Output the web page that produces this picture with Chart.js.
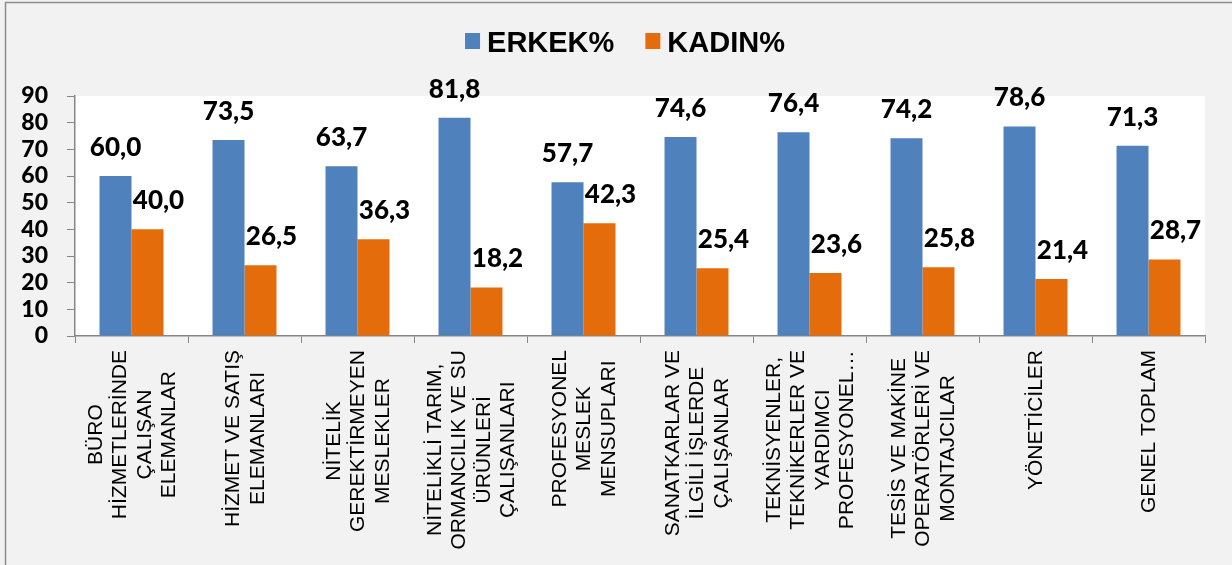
<!DOCTYPE html>
<html lang="tr">
<head>
    <meta charset="UTF-8">
    <script src="https://cdn.jsdelivr.net/npm/chart.js"></script>
    <title>ERKEK% / KADIN%</title>
    <style>
        html, body {
            margin: 0;
            padding: 0;
            background-color: #f2f2f2;
        }
        #chart {
            display: block;
        }
    </style>
</head>
<body>
    <canvas id="chart" width="1232" height="565"></canvas>

    <script>
        // Kategoriler (satırlara bölünmüş)
        const categories = [
            ['BÜRO', 'HİZMETLERİNDE', 'ÇALIŞAN', 'ELEMANLAR'],
            ['HİZMET VE SATIŞ', 'ELEMANLARI'],
            ['NİTELİK', 'GEREKTİRMEYEN', 'MESLEKLER'],
            ['NİTELİKLİ TARIM,', 'ORMANCILIK VE SU', 'ÜRÜNLERİ', 'ÇALIŞANLARI'],
            ['PROFESYONEL', 'MESLEK', 'MENSUPLARI'],
            ['SANATKARLAR VE', 'İLGİLİ İŞLERDE', 'ÇALIŞANLAR'],
            ['TEKNİSYENLER,', 'TEKNİKERLER VE', 'YARDIMCI', 'PROFESYONEL…'],
            ['TESİS VE MAKİNE', 'OPERATÖRLERİ VE', 'MONTAJCILAR'],
            ['YÖNETİCİLER'],
            ['GENEL TOPLAM']
        ];
        const erkek = [60.0, 73.5, 63.7, 81.8, 57.7, 74.6, 76.4, 74.2, 78.6, 71.3];
        const kadin = [40.0, 26.5, 36.3, 18.2, 42.3, 25.4, 23.6, 25.8, 21.4, 28.7];
        const yTicks = [0, 10, 20, 30, 40, 50, 60, 70, 80, 90];

        const BLUE = '#4f81bd';
        const ORANGE = '#e46c0a';
        const AXIS = '#868686';

        // arka plan, çerçeve ve beyaz çizim alanı
        const backgroundPlugin = {
            id: 'background',
            beforeDraw(chart) {
                const ctx = chart.ctx;
                const a = chart.chartArea;
                ctx.save();
                ctx.fillStyle = '#f2f2f2';
                ctx.fillRect(0, 0, chart.width, chart.height);
                ctx.strokeStyle = '#8c8c8c';
                ctx.lineWidth = 1.5;
                ctx.beginPath();
                ctx.moveTo(5.5, chart.height);
                ctx.lineTo(5.5, 2.5);
                ctx.lineTo(chart.width, 2.5);
                ctx.stroke();
                ctx.fillStyle = '#ffffff';
                ctx.fillRect(a.left, a.top, a.right - a.left, a.bottom - a.top);
                ctx.restore();
            }
        };

        // lejant
        const legendPlugin = {
            id: 'customLegend',
            afterDraw(chart) {
                const ctx = chart.ctx;
                ctx.save();
                ctx.font = 'bold 29px "Liberation Sans", Arial, sans-serif';
                ctx.textBaseline = 'alphabetic';
                ctx.textAlign = 'left';
                const items = chart.data.datasets.map(ds => ({
                    text: ds.label,
                    color: ds.backgroundColor,
                    w: ctx.measureText(ds.label).width
                }));
                const box = 15, gapText = 7, gapItem = 31;
                let total = 0;
                items.forEach((it, i) => {
                    total += box + gapText + it.w + (i < items.length - 1 ? gapItem : 0);
                });
                let x = 625 - total / 2;
                items.forEach(it => {
                    ctx.fillStyle = it.color;
                    ctx.fillRect(x, 33, box, 16);
                    x += box + gapText;
                    ctx.fillStyle = '#000';
                    ctx.fillText(it.text, x, 52);
                    x += it.w + gapItem;
                });
                ctx.restore();
            }
        };

        // değer etiketleri
        const valueLabelPlugin = {
            id: 'valueLabels',
            afterDatasetsDraw(chart) {
                const ctx = chart.ctx;
                ctx.save();
                ctx.font = '900 26px Lato, "DejaVu Sans", sans-serif';
                ctx.fillStyle = '#000';
                ctx.textAlign = 'center';
                ctx.textBaseline = 'alphabetic';
                chart.data.datasets.forEach((ds, di) => {
                    const meta = chart.getDatasetMeta(di);
                    meta.data.forEach((bar, i) => {
                        const txt = ds.data[i].toFixed(1).replace('.', ',');
                        const shift = di === 1 ? 11 : 0;
                        ctx.fillText(txt, bar.x + shift, bar.y - 20);
                    });
                });
                ctx.restore();
            }
        };

        // x ekseni etiketleri: dikey, satırlar ortalı
        const xLabelPlugin = {
            id: 'xLabels',
            afterDraw(chart) {
                const ctx = chart.ctx;
                const xScale = chart.scales.x;
                const lineH = 24.5;
                ctx.save();
                ctx.font = '21px "Liberation Sans", Arial, sans-serif';
                ctx.fillStyle = '#000';
                ctx.textAlign = 'center';
                ctx.textBaseline = 'middle';
                categories.forEach((lines, i) => {
                    const cx = xScale.getPixelForValue(i);
                    const longest = Math.max(...lines.map(l => ctx.measureText(l).width));
                    const cy = chart.chartArea.bottom + 14 + longest / 2;
                    lines.forEach((line, j) => {
                        const lx = cx + (j - (lines.length - 1) / 2) * lineH;
                        ctx.save();
                        ctx.translate(lx, cy);
                        ctx.rotate(-Math.PI / 2);
                        ctx.fillText(line, 0, 1);
                        ctx.restore();
                    });
                });
                ctx.restore();
            }
        };

        const ctx = document.getElementById('chart').getContext('2d');
        new Chart(ctx, {
            type: 'bar',
            data: {
                labels: categories,
                datasets: [
                    {
                        label: 'ERKEK%',
                        data: erkek,
                        backgroundColor: BLUE,
                        categoryPercentage: 0.566,
                        barPercentage: 1.0
                    },
                    {
                        label: 'KADIN%',
                        data: kadin,
                        backgroundColor: ORANGE,
                        categoryPercentage: 0.566,
                        barPercentage: 1.0
                    }
                ]
            },
            options: {
                responsive: false,
                animation: false,
                layout: {
                    padding: { top: 96, right: 27, left: 0, bottom: 0 }
                },
                plugins: {
                    legend: { display: false },
                    tooltip: { enabled: false }
                },
                scales: {
                    x: {
                        offset: true,
                        grid: {
                            offset: true,
                            drawOnChartArea: false,
                            drawTicks: true,
                            tickLength: 7,
                            color: AXIS
                        },
                        border: { color: AXIS, width: 1.5 },
                        ticks: { display: false },
                        afterFit(scale) {
                            scale.height = 229;
                        }
                    },
                    y: {
                        min: 0,
                        max: 90,
                        afterBuildTicks(scale) {
                            scale.ticks = yTicks.map(v => ({ value: v }));
                        },
                        grid: {
                            drawOnChartArea: false,
                            drawTicks: true,
                            tickLength: 8,
                            color: AXIS
                        },
                        border: { color: AXIS, width: 1.5 },
                        ticks: {
                            autoSkip: false,
                            stepSize: 10,
                            padding: 19,
                            color: '#000',
                            font: { family: 'Lato', size: 23, weight: '900' }
                        },
                        afterFit(scale) {
                            scale.width = 75;
                        }
                    }
                }
            },
            plugins: [backgroundPlugin, valueLabelPlugin, xLabelPlugin, legendPlugin]
        });
    </script>
</body>
</html>
